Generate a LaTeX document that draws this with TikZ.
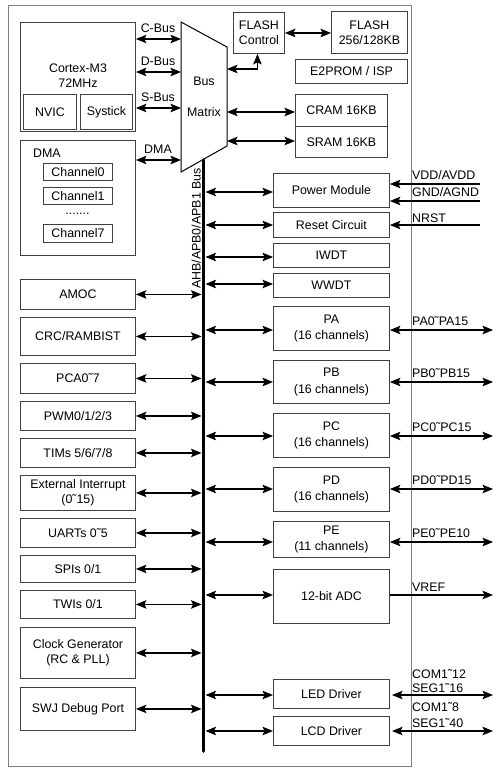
\documentclass[tikz,border=0pt]{standalone}
\usepackage{fontspec}
\setmainfont{Liberation Sans}
\usetikzlibrary{arrows.meta}
\begin{document}
\begin{tikzpicture}[x=1pt,y=-1pt,
  every node/.style={font=\fontsize{12.4}{15}\selectfont, inner sep=0pt},
  box/.style={draw=black!75, line width=0.9pt, anchor=north west, align=center},
  conn/.style={line width=1.1pt, {Stealth[length=10.5pt,width=8.5pt,inset=2pt]}-{Stealth[length=10.5pt,width=8.5pt,inset=2pt]}},
  inarr/.style={line width=1.1pt, -{Stealth[length=10.5pt,width=8.5pt,inset=2pt]}},
  pinlab/.style={anchor=base west},
  buslab/.style={anchor=base},
  twoline/.style={align=center, font=\fontsize{12.4}{16.5}\selectfont}]
\useasboundingbox (0,0) rectangle (503,774);
% outer frame
\draw[draw=black!50, line width=1pt] (8,5) rectangle (411,766);

% Cortex-M3
\node[box, minimum width=115pt, minimum height=109pt] (cpu) at (20,22) {};
\node[align=center] (cpulab) at (78,76) {Cortex-M3\\72MHz};
\node[box, minimum width=53pt, minimum height=35pt] (nvic) at (23,94) {NVIC};
\node[box, minimum width=52pt, minimum height=35pt] (systick) at (80,94) {Systick};

% DMA
\node[box, minimum width=115pt, minimum height=115pt] (dma) at (20,140) {};
\node[anchor=west] (dmalab) at (33,153) {DMA};
\node[box, minimum width=69pt, minimum height=17pt] (ch0) at (43,163) {Channel0};
\node[box, minimum width=69pt, minimum height=17pt] (ch1) at (43,187) {Channel1};
\node[anchor=base] (dots) at (77.5,214) {.......};
\node[box, minimum width=69pt, minimum height=18pt] (ch7) at (43,224) {Channel7};

% Bus matrix
\coordinate (m1) at (181,22);
\coordinate (m2) at (227,47);
\coordinate (m3) at (227,146);
\coordinate (m4) at (181,172);
\draw[line width=1pt, line join=miter] (m1) -- (m2) -- (m3) -- (m4) -- cycle;
\node (bmA) at (204,81) {Bus};
\node (bmB) at (204,112) {Matrix};
\coordinate (mc) at (181,39);
\coordinate (md) at (181,72);
\coordinate (ms) at (181,108);
\coordinate (mdma) at (181,160);
\coordinate (mf) at (227,69);
\coordinate (mcr) at (227,112);
\coordinate (msr) at (227,141);

\draw[conn] (mc -| cpu.east) -- (mc);
\draw[conn] (md -| cpu.east) -- (md);
\draw[conn] (ms -| cpu.east) -- (ms);
\draw[conn] (mdma -| dma.east) -- (mdma);
\node[buslab] (lc) at (158,32) {C-Bus};
\node[buslab] (ld) at (158,65) {D-Bus};
\node[buslab] (ls) at (158,101) {S-Bus};
\node[buslab] (ldma) at (158,153) {DMA};

% Flash & memories
\node[box, minimum width=51pt, minimum height=41pt] (fc) at (233,12) {FLASH\\Control};
\node[box, minimum width=76pt, minimum height=42pt] (flash) at (331,11) {FLASH\\256/128KB};
\node[box, minimum width=112pt, minimum height=24pt] (e2) at (295,59) {E2PROM / ISP};
\node[box, minimum width=92pt, minimum height=32pt] (cram) at (295,94) {CRAM 16KB};
\node[box, minimum width=92pt, minimum height=31pt] (sram) at (295,126) {SRAM 16KB};
\draw[conn] (fc.east) -- (fc.east -| flash.west);
\draw[conn] (mf) -| ([xshift=-1.5pt]fc.south);
\draw[conn] (mcr) -- (mcr -| cram.west);
\draw[conn] (msr) -- (msr -| sram.west);

% main bus
\coordinate (bt) at (203.5,160);
\coordinate (bb) at (203.5,751);
\draw[line width=3.8pt, line cap=round] (bt) -- (bb);
\coordinate (bl) at (201.5,0);
\coordinate (br) at (205.5,0);
\node[rotate=90, anchor=base] (buslbl) at (200.5,228.5) {AHB/APB0/APB1 Bus};

% left peripherals
\node[box, minimum width=115pt, minimum height=30pt] (amoc) at (20,279) {AMOC};
\node[box, minimum width=115pt, minimum height=38pt] (crc) at (20,317) {CRC/RAMBIST};
\node[box, minimum width=115pt, minimum height=30pt] (pca) at (20,363) {PCA0˜7};
\node[box, minimum width=115pt, minimum height=29pt] (pwm) at (20,401) {PWM0/1/2/3};
\node[box, minimum width=115pt, minimum height=29pt] (tims) at (20,438) {TIMs 5/6/7/8};
\node[box, minimum width=115pt, minimum height=35pt] (exti) at (20,475) {External Interrupt\\(0˜15)};
\node[box, minimum width=115pt, minimum height=29pt] (uart) at (20,518) {UARTs 0˜5};
\node[box, minimum width=115pt, minimum height=27pt] (spi) at (20,555) {SPIs 0/1};
\node[box, minimum width=115pt, minimum height=28pt] (twi) at (20,590) {TWIs 0/1};
\node[box, minimum width=115pt, minimum height=51pt] (clk) at (20,627) {Clock Generator\\(RC \& PLL)};
\node[box, minimum width=115pt, minimum height=43pt] (swj) at (20,687) {SWJ Debug Port};
\foreach \n in {amoc,crc,pca,pwm,tims,exti,uart,spi,twi,clk,swj}
  \draw[conn] (\n.east) -- (\n.east -| bl);

% right peripherals
\node[box, minimum width=116pt, minimum height=34pt] (pwr) at (273,173) {Power Module};
\node[box, minimum width=116pt, minimum height=25pt] (rst) at (273,212) {Reset Circuit};
\node[box, minimum width=116pt, minimum height=24pt] (iwdt) at (273,243) {IWDT};
\node[box, minimum width=116pt, minimum height=24pt] (wwdt) at (273,273) {WWDT};
\node[box, twoline, minimum width=116pt, minimum height=44pt] (pa) at (273,306) {PA\\(16 channels)};
\node[box, twoline, minimum width=116pt, minimum height=43pt] (pb) at (273,360) {PB\\(16 channels)};
\node[box, twoline, minimum width=116pt, minimum height=44pt] (pc) at (273,413) {PC\\(16 channels)};
\node[box, twoline, minimum width=116pt, minimum height=44pt] (pd) at (273,467) {PD\\(16 channels)};
\node[box, twoline, minimum width=116pt, minimum height=36pt] (pe) at (273,521) {PE\\(11 channels)};
\node[box, minimum width=116pt, minimum height=54pt] (adc) at (273,569) {12-bit ADC};
\node[box, minimum width=116pt, minimum height=29pt] (led) at (273,679) {LED Driver};
\node[box, minimum width=116pt, minimum height=29pt] (lcd) at (273,716) {LCD Driver};

\coordinate (ypwr) at (0,192);
\coordinate (yrst) at (0,225);
\coordinate (yiwdt) at (0,257);
\coordinate (ywwdt) at (0,284);
\coordinate (ypa) at (0,330);
\coordinate (ypb) at (0,382);
\coordinate (ypc) at (0,436);
\coordinate (ypd) at (0,489);
\coordinate (ype) at (0,542);
\coordinate (yadc) at (0,595);
\coordinate (yled) at (0,695);
\coordinate (ylcd) at (0,731);
\foreach \n in {pwr,rst,iwdt,wwdt,pa,pb,pc,pd,pe,adc,led,lcd}
  \draw[conn] (br |- y\n) -- (pwr.west |- y\n);

% external pins
\coordinate (vdd) at (480,184);
\coordinate (gnd) at (480,201);
\coordinate (nrst) at (480,225);
\draw[inarr] (vdd) -- (vdd -| pwr.east);
\draw[inarr] (gnd) -- (gnd -| pwr.east);
\draw[inarr] (nrst) -- (nrst -| rst.east);
\node[pinlab] (lvdd) at (412,179.5) {VDD/AVDD};
\node[pinlab] (lgnd) at (412,196.5) {GND/AGND};
\node[pinlab] (lnrst) at (412,222.5) {NRST};

\coordinate (opa) at (493,330);
\coordinate (opb) at (493,382);
\coordinate (opc) at (493,436);
\coordinate (opd) at (493,489);
\coordinate (ope) at (493,542);
\coordinate (ovref) at (493,595);
\coordinate (oled) at (493,695);
\coordinate (olcd) at (493,731);
\foreach \n in {pa,pb,pc,pd,pe}
  \draw[conn] (o\n -| pa.east) -- (o\n);
\draw[inarr] (ovref -| adc.east) -- (ovref);
\coordinate (iled) at (392,695);
\coordinate (ilcd) at (392,731);
\draw[conn] (iled) -- (oled);
\draw[conn] (ilcd) -- (olcd);
\node[pinlab] (lpa) at (412,325) {PA0˜PA15};
\node[pinlab] (lpb) at (412,377) {PB0˜PB15};
\node[pinlab] (lpc) at (412,431) {PC0˜PC15};
\node[pinlab] (lpd) at (412,484) {PD0˜PD15};
\node[pinlab] (lpe) at (412,537) {PE0˜PE10};
\node[pinlab] (lvref) at (412,591) {VREF};
\node[pinlab] (lcom1) at (412,678) {COM1˜12};
\node[pinlab] (lseg1) at (412,692) {SEG1˜16};
\node[pinlab] (lcom2) at (412,711) {COM1˜8};
\node[pinlab] (lseg2) at (412,727) {SEG1˜40};
\end{tikzpicture}
\end{document}
